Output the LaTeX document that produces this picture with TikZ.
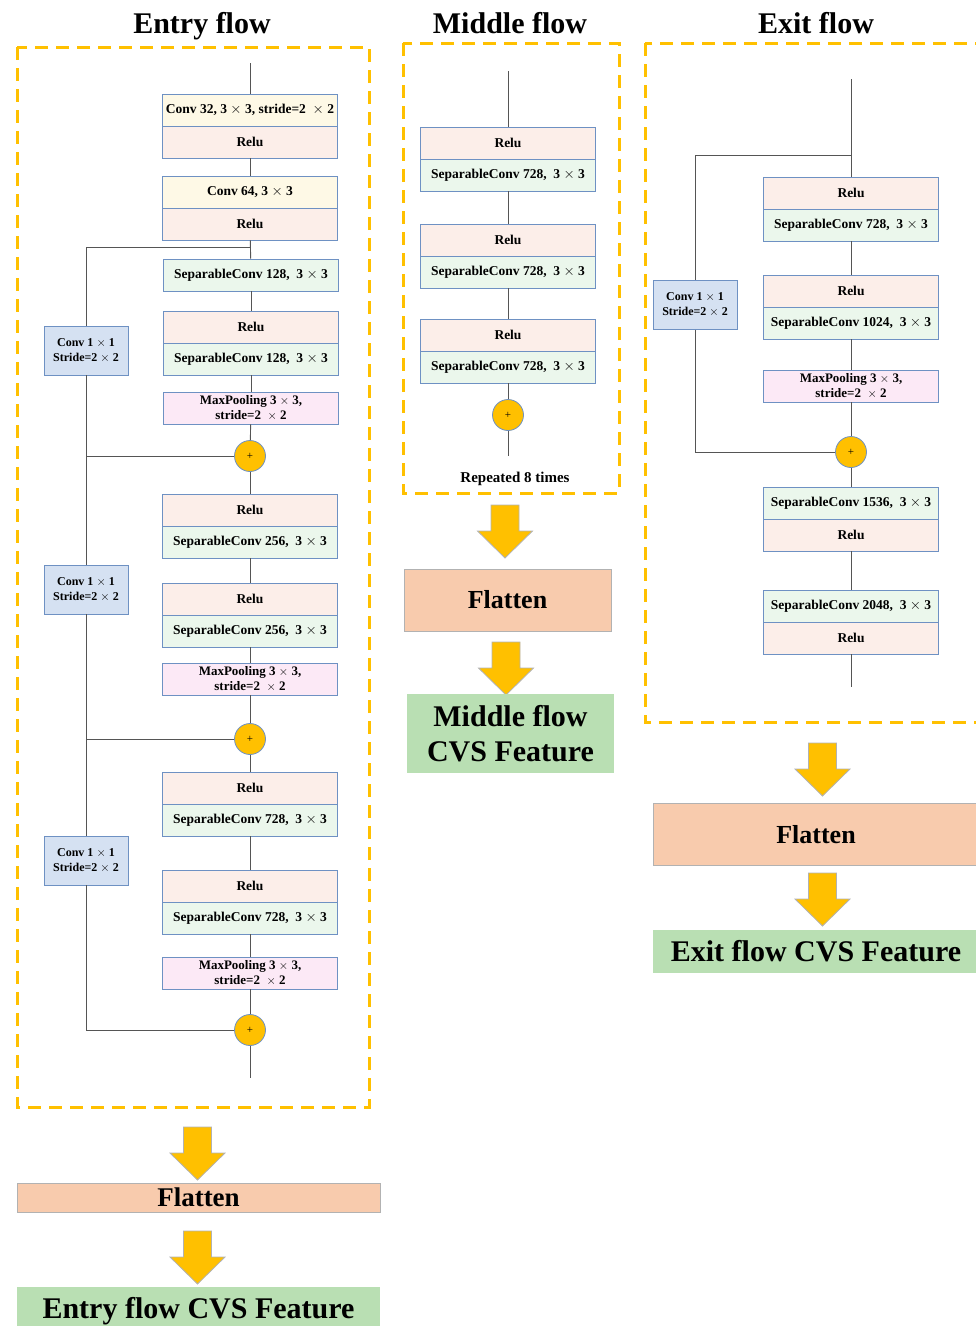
\documentclass[tikz,border=0pt]{standalone}
\usepackage{fontspec}
\setmainfont{Liberation Serif}
\usepackage{xcolor}
\definecolor{conv_yellow}{HTML}{FEF9E6}
\definecolor{relu_pink}{HTML}{FCEEE9}
\definecolor{sep_green}{HTML}{EBF7EC}
\definecolor{pool_pink}{HTML}{FCE9F6}
\definecolor{short_blue}{HTML}{D5E1F2}
\definecolor{box_line}{HTML}{6E91C3}
\definecolor{gold}{HTML}{FFC000}
\definecolor{link_grey}{HTML}{555555}
\definecolor{flat_peach}{HTML}{F8CBAD}
\definecolor{feat_green}{HTML}{B9DFB3}
\newcommand{\by}{\ensuremath{\times}}

\begin{document}
\begin{tikzpicture}[x=1pt, y=-1pt]
\tikzset{
    block/.style={draw=box_line, line width=0.8pt, minimum width=175pt, minimum height=32pt,
        inner sep=0pt, align=center, font=\fontsize{13.5}{14.5}\selectfont\bfseries},
    convbox/.style={block, fill=conv_yellow},
    relubox/.style={block, fill=relu_pink},
    sepbox/.style={block, fill=sep_green},
    poolbox/.style={block, fill=pool_pink, font=\fontsize{13}{15.5}\selectfont\bfseries},
    shortbox/.style={block, fill=short_blue, minimum width=84pt, minimum height=49pt,
        font=\fontsize{12}{15}\selectfont\bfseries},
    addnode/.style={circle, draw=box_line, line width=0.8pt, fill=gold, minimum size=31pt,
        inner sep=0pt, font=\fontsize{11}{11}\selectfont},
    link/.style={draw=link_grey, line width=0.9pt},
    flowframe/.style={draw=gold, line width=3pt, dash pattern=on 13pt off 8pt},
    bigarrow/.style={fill=gold, draw=gray!60, line width=0.8pt},
    headline/.style={anchor=base, font=\fontsize{30}{30}\selectfont\bfseries},
    flatbox/.style={draw=gray!60, line width=0.8pt, fill=flat_peach, inner sep=0pt,
        font=\fontsize{26}{26}\selectfont\bfseries},
    featbox/.style={fill=feat_green, inner sep=0pt, align=center,
        font=\fontsize{30}{35}\selectfont\bfseries}
}
\useasboundingbox (0,0) rectangle (976,1326);
\clip (0,0) rectangle (976,1326);

% titles and frames
\node[headline] (t1) at (202,33) {Entry flow};
\node[headline] (t2) at (510,33) {Middle flow};
\node[headline] (t3) at (816,33) {Exit flow};
\draw[flowframe] (17,47) rectangle (369,1107);
\draw[flowframe] (403,43) rectangle (619,493);
\draw[flowframe] (645,43) rectangle (988,722);

% entry flow
\coordinate (ein) at (250,63);
\coordinate (eb1) at (250,247);
\coordinate (ej1) at (86,456);
\coordinate (ej2) at (86,739);
\coordinate (ej3) at (86,1030);
\coordinate (eout) at (250,1078);
\node[convbox] (e1) at (250,110) {Conv 32, 3 \by{} 3, stride=2~~\by{} 2};
\node[relubox] (e2) at (250,142) {Relu};
\node[convbox] (e3) at (250,192) {Conv 64, 3 \by{} 3};
\node[relubox] (e4) at (250,224) {Relu};
\node[sepbox] (e5) at (251,275) {SeparableConv 128,~~3 \by{} 3};
\node[relubox] (e6) at (251,327) {Relu};
\node[sepbox] (e7) at (251,359) {SeparableConv 128,~~3 \by{} 3};
\node[poolbox] (e8) at (251,408) {MaxPooling 3 \by{} 3,\\stride=2~~\by{} 2};
\node[addnode] (p1) at (250,456) {+};
\node[relubox] (e9) at (250,510) {Relu};
\node[sepbox] (e10) at (250,542) {SeparableConv 256,~~3 \by{} 3};
\node[relubox] (e11) at (250,599) {Relu};
\node[sepbox] (e12) at (250,631) {SeparableConv 256,~~3 \by{} 3};
\node[poolbox] (e13) at (250,679) {MaxPooling 3 \by{} 3,\\stride=2~~\by{} 2};
\node[addnode] (p2) at (250,739) {+};
\node[relubox] (e14) at (250,788) {Relu};
\node[sepbox] (e15) at (250,820) {SeparableConv 728,~~3 \by{} 3};
\node[relubox] (e16) at (250,886) {Relu};
\node[sepbox] (e17) at (250,918) {SeparableConv 728,~~3 \by{} 3};
\node[poolbox] (e18) at (250,973) {MaxPooling 3 \by{} 3,\\stride=2~~\by{} 2};
\node[addnode] (p3) at (250,1030) {+};
\node[shortbox] (s1) at (86,350.5) {Conv 1 \by{} 1\\Stride=2 \by{} 2};
\node[shortbox] (s2) at (86,589.5) {Conv 1 \by{} 1\\Stride=2 \by{} 2};
\node[shortbox] (s3) at (86,860.5) {Conv 1 \by{} 1\\Stride=2 \by{} 2};
\draw[link] (ein) -- (e1);
\draw[link] (e2) -- (e3);
\draw[link] (e4) -- (e5);
\draw[link] (e5) -- (e6);
\draw[link] (e7) -- (e8);
\draw[link] (e8) -- (p1);
\draw[link] (p1) -- (e9);
\draw[link] (e10) -- (e11);
\draw[link] (e12) -- (e13);
\draw[link] (e13) -- (p2);
\draw[link] (p2) -- (e14);
\draw[link] (e15) -- (e16);
\draw[link] (e17) -- (e18);
\draw[link] (e18) -- (p3);
\draw[link] (p3) -- (eout);
% shortcuts
\draw[link] (eb1) -| (s1);
\draw[link] (s1) -- (ej1) -- (p1);
\draw[link] (ej1) -- (s2);
\draw[link] (s2) -- (ej2) -- (p2);
\draw[link] (ej2) -- (s3);
\draw[link] (s3) -- (ej3) -- (p3);

% middle flow
\coordinate (min) at (508,71);
\coordinate (mout) at (508,456);
\node[relubox] (m1) at (508,143) {Relu};
\node[sepbox] (m2) at (508,175) {SeparableConv 728,~~3 \by{} 3};
\node[relubox] (m3) at (508,240) {Relu};
\node[sepbox] (m4) at (508,272) {SeparableConv 728,~~3 \by{} 3};
\node[relubox] (m5) at (508,335) {Relu};
\node[sepbox] (m6) at (508,367) {SeparableConv 728,~~3 \by{} 3};
\node[addnode] (p4) at (508,415) {+};
\node[anchor=base, font=\fontsize{15}{15}\selectfont\bfseries] (rep) at (515,482) {Repeated 8 times};
\draw[link] (min) -- (m1);
\draw[link] (m2) -- (m3);
\draw[link] (m4) -- (m5);
\draw[link] (m6) -- (p4);
\draw[link] (p4) -- (mout);

% exit flow
\coordinate (xin) at (851,79);
\coordinate (xb) at (851,155);
\coordinate (xj) at (695,452);
\coordinate (xout) at (851,687);
\node[relubox] (x1) at (851,193) {Relu};
\node[sepbox] (x2) at (851,225) {SeparableConv 728,~~3 \by{} 3};
\node[relubox] (x3) at (851,291) {Relu};
\node[sepbox] (x4) at (851,323) {SeparableConv 1024,~~3 \by{} 3};
\node[poolbox] (x5) at (851,386) {MaxPooling 3 \by{} 3,\\stride=2~~\by{} 2};
\node[addnode] (p5) at (851,452) {+};
\node[sepbox] (x6) at (851,503) {SeparableConv 1536,~~3 \by{} 3};
\node[relubox] (x7) at (851,535) {Relu};
\node[sepbox] (x8) at (851,606) {SeparableConv 2048,~~3 \by{} 3};
\node[relubox] (x9) at (851,638) {Relu};
\node[shortbox] (s4) at (695,305) {Conv 1 \by{} 1\\Stride=2 \by{} 2};
\draw[link] (xin) -- (x1);
\draw[link] (x2) -- (x3);
\draw[link] (x4) -- (x5);
\draw[link] (x5) -- (p5);
\draw[link] (p5) -- (x6);
\draw[link] (x7) -- (x8);
\draw[link] (x9) -- (xout);
\draw[link] (xb) -| (s4);
\draw[link] (s4) -- (xj) -- (p5);

% outputs
\draw[bigarrow] (183.5,1127) -- ++(28,0) -- ++(0,26) -- ++(13.5,0) -- ++(-27.5,27) -- ++(-27.5,-27) -- ++(13.5,0) -- cycle;
\draw[bigarrow] (183.5,1231) -- ++(28,0) -- ++(0,26) -- ++(13.5,0) -- ++(-27.5,27) -- ++(-27.5,-27) -- ++(13.5,0) -- cycle;
\draw[bigarrow] (491,505) -- ++(28,0) -- ++(0,26) -- ++(13.5,0) -- ++(-27.5,27) -- ++(-27.5,-27) -- ++(13.5,0) -- cycle;
\draw[bigarrow] (492,642) -- ++(28,0) -- ++(0,26) -- ++(13.5,0) -- ++(-27.5,27) -- ++(-27.5,-27) -- ++(13.5,0) -- cycle;
\draw[bigarrow] (808.5,743) -- ++(28,0) -- ++(0,26) -- ++(13.5,0) -- ++(-27.5,27) -- ++(-27.5,-27) -- ++(13.5,0) -- cycle;
\draw[bigarrow] (808.5,873) -- ++(28,0) -- ++(0,26) -- ++(13.5,0) -- ++(-27.5,27) -- ++(-27.5,-27) -- ++(13.5,0) -- cycle;
\node[flatbox, minimum width=363pt, minimum height=29pt, font=\fontsize{27}{27}\selectfont\bfseries] (f1) at (198.5,1197.5) {Flatten};
\node[featbox, minimum width=363pt, minimum height=48pt] (g1) at (198.5,1311) {Entry flow CVS Feature};
\node[flatbox, minimum width=207pt, minimum height=62pt] (f2) at (507.5,600) {Flatten};
\node[featbox, minimum width=207pt, minimum height=79pt] (g2) at (510.5,733.5) {Middle flow\\CVS Feature};
\node[flatbox, minimum width=326pt, minimum height=62pt] (f3) at (816,834.5) {Flatten};
\node[featbox, minimum width=326pt, minimum height=43pt] (g3) at (816,951.5) {Exit flow CVS Feature};
\end{tikzpicture}
\end{document}
